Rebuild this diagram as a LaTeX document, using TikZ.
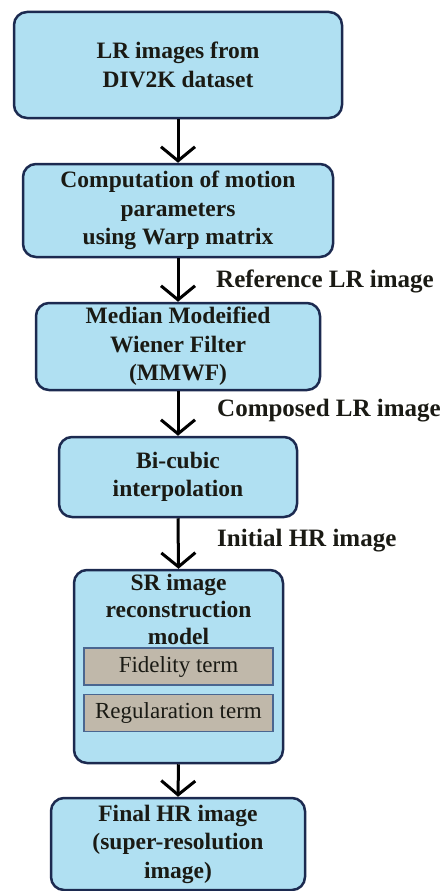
\documentclass[tikz,border=0pt]{standalone}
\usepackage{fontspec}
\setmainfont{Liberation Serif}
\usetikzlibrary{arrows.meta}
\definecolor{boxfill}{HTML}{B0E0F2}
\definecolor{boxline}{HTML}{1C2A50}
\definecolor{termfill}{HTML}{C0B8AA}
\definecolor{termline}{HTML}{4A6690}
\definecolor{ink}{HTML}{1A1A14}
\tikzset{
  x=1pt, y=1pt,
  flowbox/.style={draw=boxline, fill=boxfill, line width=2.5pt, rounded corners=13pt,
    inner sep=0pt, align=center, text=ink,
    font=\fontsize{23.5}{28.5}\selectfont\bfseries},
  termbox/.style={draw=termline, fill=termfill, line width=1.6pt, inner sep=0pt,
    minimum width=189pt, minimum height=37pt, text=ink,
    font=\fontsize{23}{27}\selectfont},
  flowlabel/.style={anchor=west, inner sep=0pt, text=ink,
    font=\fontsize{25}{29}\selectfont\bfseries},
  flowarrow/.style={draw=black, line width=3pt,
    -{Straight Barb[length=14pt,width=34pt,line width=3pt]}},
}
\begin{document}
\begin{tikzpicture}
\useasboundingbox (0,0) rectangle (441,-891);

\node[flowbox, minimum width=328pt, minimum height=106pt] (lr) at (178,-65)
  {LR images from\\DIV2K dataset};
\node[flowbox, minimum width=310pt, minimum height=93pt] (motion) at (178,-210.5)
  {Computation of motion\\parameters\\using Warp matrix};
\node[flowbox, minimum width=284pt, minimum height=87pt] (mmwf) at (178,-346.5)
  {Median Modeified\\Wiener Filter\\(MMWF)};
\node[flowbox, minimum width=238pt, minimum height=80pt] (bicubic) at (178,-477)
  {Bi-cubic\\interpolation};
\node[flowbox, minimum width=209pt, minimum height=193pt] (sr) at (178.5,-666.5) {};
\node[align=center, inner sep=0pt, text=ink,
  font=\fontsize{23.5}{27}\selectfont\bfseries] (srtitle) at (178.5,-609)
  {SR image\\reconstruction\\model};
\node[termbox] (fidelity) at (178.5,-666.5) {Fidelity term};
\node[termbox] (regular) at (178.5,-713) {Regularation term};
\node[flowbox, minimum width=254pt, minimum height=92pt] (final) at (178,-844)
  {Final HR image\\(super-resolution\\image)};

\draw[flowarrow] (lr.south) -- (motion.north);
\draw[flowarrow] (motion.south) -- (mmwf.north);
\draw[flowarrow] (mmwf.south) -- (bicubic.north);
\draw[flowarrow] (bicubic.south) -- (sr.north);
\draw[flowarrow] (sr.south) -- (final.north);

\node[flowlabel] (reflabel) at (216,-281) {Reference LR image};
\node[flowlabel] (complabel) at (217,-411) {Composed LR image};
\node[flowlabel] (initlabel) at (217,-541) {Initial HR image};
\end{tikzpicture}
\end{document}
